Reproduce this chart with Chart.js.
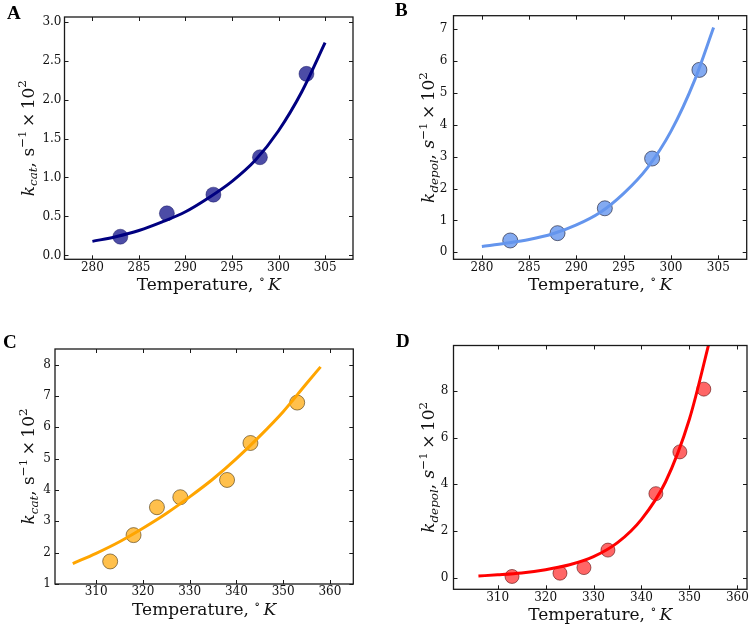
<!DOCTYPE html>
<html>
<head>
<meta charset="utf-8">
<script src="https://cdn.jsdelivr.net/npm/chart.js@4"></script>
<style>
  html, body { margin: 0; padding: 0; background: #fff; }
  #wrap { position: relative; width: 755px; height: 628px; overflow: hidden; }
  #wrap canvas { position: absolute; }
</style>
</head>
<body>
<div id="wrap">
  <canvas id="chartA"></canvas>
  <canvas id="chartB"></canvas>
  <canvas id="chartC"></canvas>
  <canvas id="chartD"></canvas>
</div>
<script>
// tick labels
const tempTicksLow = [280, 285, 290, 295, 300, 305];
const tempTicksHigh = [310, 320, 330, 340, 350, 360];
const kTicksA = [0, 0.5, 1, 1.5, 2, 2.5, 3];
const kTicksB = [0, 1, 2, 3, 4, 5, 6, 7];
const kTicksC = [1, 2, 3, 4, 5, 6, 7, 8];
const kTicksD = [0, 2, 4, 6, 8];

// panel A: k_cat, low temperature
const tempA = [283, 288, 293, 298, 303];
const kcatA = [0.24, 0.54, 0.78, 1.26, 2.33];
const fitTempA = [280, 282.5, 285, 287.5, 290, 292.5, 295, 297.5, 300, 302.5, 305];
const fitKcatA = [0.18, 0.24, 0.32, 0.43, 0.56, 0.74, 0.95, 1.22, 1.60, 2.10, 2.73];

// panel B: k_depol, low temperature
const tempB = [283, 288, 293, 298, 303];
const kdepolB = [0.37, 0.60, 1.38, 2.94, 5.72];
const fitTempB = [280, 282.5, 285, 287.5, 290, 292.5, 295, 297.5, 300, 302.5, 304.5];
const fitKdepolB = [0.18, 0.28, 0.40, 0.58, 0.86, 1.25, 1.85, 2.65, 3.80, 5.40, 7.05];

// panel C: k_cat, high temperature
const tempC = [313, 318, 323, 328, 338, 343, 353];
const kcatC = [1.72, 2.56, 3.45, 3.77, 4.32, 5.50, 6.79];
const fitTempC = [305, 310, 315, 320, 325, 330, 335, 340, 345, 350, 355, 358];
const fitKcatC = [1.65, 1.98, 2.35, 2.78, 3.25, 3.78, 4.35, 5.00, 5.72, 6.50, 7.40, 7.93];

// panel D: k_depol, high temperature
const tempD = [313, 323, 328, 333, 343, 348, 353];
const kdepolD = [0.05, 0.19, 0.43, 1.18, 3.60, 5.39, 8.08];
const fitTempD = [306, 310, 315, 320, 325, 330, 335, 340, 345, 350, 354.5];
const fitKdepolD = [0.07, 0.12, 0.20, 0.34, 0.55, 0.90, 1.50, 2.50, 4.10, 6.80, 10.4];

const SERIF = '"DejaVu Serif", serif';

// rich text: parts of {t, it, sub, sup}
function richWidth(ctx, parts, size) {
  let w = 0;
  parts.forEach(p => {
    const s = (p.sub || p.sup) ? size * 0.7 : size;
    ctx.font = (p.it ? 'italic ' : '') + s + 'px ' + SERIF;
    w += ctx.measureText(p.t).width;
  });
  return w;
}
function drawRich(ctx, parts, size, cx, y) {
  let x = cx - richWidth(ctx, parts, size) / 2;
  ctx.textBaseline = 'alphabetic';
  ctx.textAlign = 'left';
  parts.forEach(p => {
    const s = (p.sub || p.sup) ? size * 0.7 : size;
    ctx.font = (p.it ? 'italic ' : '') + s + 'px ' + SERIF;
    let dy = 0;
    if (p.sub) dy = size * 0.22;
    if (p.sup) dy = -size * 0.42;
    ctx.fillText(p.t, x, y + dy);
    x += ctx.measureText(p.t).width;
  });
}

const xTitle = [{t: 'Temperature, '}, {t: '\u2218', sup: 1}, {t: '\u2009'}, {t: 'K', it: 1}];
const yTitleCat = [{t: 'k', it: 1}, {t: 'cat', it: 1, sub: 1}, {t: ', '}, {t: 's'}, {t: '\u22121', sup: 1}, {t: '\u2009\u00d7\u200910'}, {t: '2', sup: 1}];
const yTitleDepol = [{t: 'k', it: 1}, {t: 'depol', it: 1, sub: 1}, {t: ', '}, {t: 's', it: 1}, {t: '\u22121', sup: 1}, {t: '\u2009\u00d7\u200910'}, {t: '2', sup: 1}];

// frame, inside ticks, titles, panel letter
const deco = {
  id: 'deco',
  afterDraw(chart, args, o) {
    const ctx = chart.ctx;
    const a = chart.chartArea;
    const xs = chart.scales.x, ys = chart.scales.y;
    ctx.save();
    ctx.strokeStyle = '#1a1a1a';
    ctx.lineWidth = 1;
    ctx.beginPath();
    xs.ticks.forEach(t => {
      const px = Math.round(xs.getPixelForValue(t.value)) + 0.5;
      ctx.moveTo(px, a.bottom); ctx.lineTo(px, a.bottom - 4);
      ctx.moveTo(px, a.top); ctx.lineTo(px, a.top + 4);
    });
    ys.ticks.forEach(t => {
      const py = Math.round(ys.getPixelForValue(t.value)) + 0.5;
      ctx.moveTo(a.left, py); ctx.lineTo(a.left + 4, py);
      ctx.moveTo(a.right, py); ctx.lineTo(a.right - 4, py);
    });
    ctx.stroke();
    ctx.lineWidth = 1.3;
    ctx.strokeRect(a.left, a.top, a.right - a.left, a.bottom - a.top);

    ctx.fillStyle = '#111';
    drawRich(ctx, xTitle, 17, (a.left + a.right) / 2, a.bottom + 31);
    ctx.translate(a.left - o.yTitleGap, (a.top + a.bottom) / 2);
    ctx.rotate(-Math.PI / 2);
    drawRich(ctx, o.yTitle, 17, 0, 0);
    ctx.restore();

    ctx.save();
    ctx.fillStyle = '#000';
    ctx.font = 'bold 19px "Liberation Serif", serif';
    ctx.textBaseline = 'alphabetic';
    ctx.fillText(o.letter, o.letterX, o.letterY);
    ctx.restore();
  }
};

function pairs(xs, ys) {
  return xs.map((x, i) => ({x: x, y: ys[i]}));
}

function makePanel(id, p) {
  const el = document.getElementById(id);
  el.width = p.w; el.height = p.h;
  el.style.left = p.x + 'px'; el.style.top = p.y + 'px';
  el.style.width = p.w + 'px'; el.style.height = p.h + 'px';
  return new Chart(el, {
    type: 'line',
    data: {
      datasets: [{
        label: 'fit',
        data: pairs(p.fitX, p.fitY),
        borderColor: p.lineColor,
        borderWidth: 3,
        pointRadius: 0,
        cubicInterpolationMode: 'monotone',
        fill: false,
        clip: 0,
        order: 0
      }, {
        label: 'measured',
        data: pairs(p.ptX, p.ptY),
        showLine: false,
        pointRadius: p.r,
        pointBackgroundColor: p.ptFill,
        pointBorderColor: p.ptEdge,
        pointBorderWidth: 0.8,
        order: 1
      }]
    },
    options: {
      responsive: false,
      animation: false,
      layout: { padding: { left: 0, top: p.area.t, right: p.w - p.area.r, bottom: 0 } },
      plugins: {
        legend: { display: false },
        tooltip: { enabled: false },
        deco: { letter: p.letter, letterX: p.lx, letterY: p.ly, yTitle: p.yTitle, yTitleGap: p.yGap }
      },
      scales: {
        x: {
          type: 'linear',
          min: p.xMin, max: p.xMax,
          grid: { display: false, drawTicks: false },
          border: { display: false },
          afterBuildTicks: s => { s.ticks = p.xTicks.map(v => ({value: v})); },
          afterFit: s => { s.height = p.h - p.area.b; },
          ticks: { color: '#111', padding: 1, font: { family: SERIF, size: 12 }, maxRotation: 0, autoSkip: false }
        },
        y: {
          type: 'linear',
          min: p.yMin, max: p.yMax,
          grid: { display: false, drawTicks: false },
          border: { display: false },
          afterBuildTicks: s => { s.ticks = p.yTicks.map(v => ({value: v})); },
          afterFit: s => { s.width = p.area.l; },
          ticks: {
            color: '#111', padding: p.yPad, font: { family: SERIF, size: 12 }, autoSkip: false,
            callback: v => p.yFmt ? Number(v).toFixed(1) : String(v)
          }
        }
      }
    },
    plugins: [deco]
  });
}

makePanel('chartA', {
  x: 0, y: 0, w: 378, h: 314, area: { l: 64.5, t: 17, r: 353, b: 259.3 },
  xMin: 277, xMax: 308, yMin: -0.05, yMax: 3.06, xTicks: tempTicksLow, yTicks: kTicksA, yFmt: true, yPad: 3,
  fitX: fitTempA, fitY: fitKcatA, ptX: tempA, ptY: kcatA, r: 7.5,
  lineColor: '#000080', ptFill: 'rgba(0,0,128,0.7)', ptEdge: 'rgba(0,0,80,0.5)',
  letter: 'A', lx: 7, ly: 19, yTitle: yTitleCat, yGap: 31
});
makePanel('chartB', {
  x: 378, y: 0, w: 377, h: 314, area: { l: 75.5, t: 15.7, r: 372, b: 259.3 },
  xMin: 277, xMax: 308, yMin: -0.22, yMax: 7.42, xTicks: tempTicksLow, yTicks: kTicksB, yPad: 6,
  fitX: fitTempB, fitY: fitKdepolB, ptX: tempB, ptY: kdepolB, r: 7.5,
  lineColor: '#6495ED', ptFill: 'rgba(100,149,237,0.8)', ptEdge: 'rgba(30,30,50,0.8)',
  letter: 'B', lx: 17, ly: 16, yTitle: yTitleDepol, yGap: 19.5
});
makePanel('chartC', {
  x: 0, y: 314, w: 378, h: 314, area: { l: 55, t: 35, r: 353.3, b: 270 },
  xMin: 301.2, xMax: 365, yMin: 1, yMax: 8.5, xTicks: tempTicksHigh, yTicks: kTicksC, yPad: 4,
  fitX: fitTempC, fitY: fitKcatC, ptX: tempC, ptY: kcatC, r: 7.5,
  lineColor: '#FFA500', ptFill: 'rgba(255,165,0,0.7)', ptEdge: 'rgba(60,40,0,0.7)',
  letter: 'C', lx: 3, ly: 34, yTitle: yTitleCat, yGap: 21
});
makePanel('chartD', {
  x: 378, y: 314, w: 377, h: 314, area: { l: 75.5, t: 31.5, r: 369, b: 275.3 },
  xMin: 300.8, xMax: 362, yMin: -0.5, yMax: 9.95, xTicks: tempTicksHigh, yTicks: kTicksD, yPad: 5,
  fitX: fitTempD, fitY: fitKdepolD, ptX: tempD, ptY: kdepolD, r: 7,
  lineColor: '#FF0000', ptFill: 'rgba(255,0,0,0.6)', ptEdge: 'rgba(80,0,0,0.7)',
  letter: 'D', lx: 18, ly: 33, yTitle: yTitleDepol, yGap: 19.5
});
</script>
</body>
</html>
